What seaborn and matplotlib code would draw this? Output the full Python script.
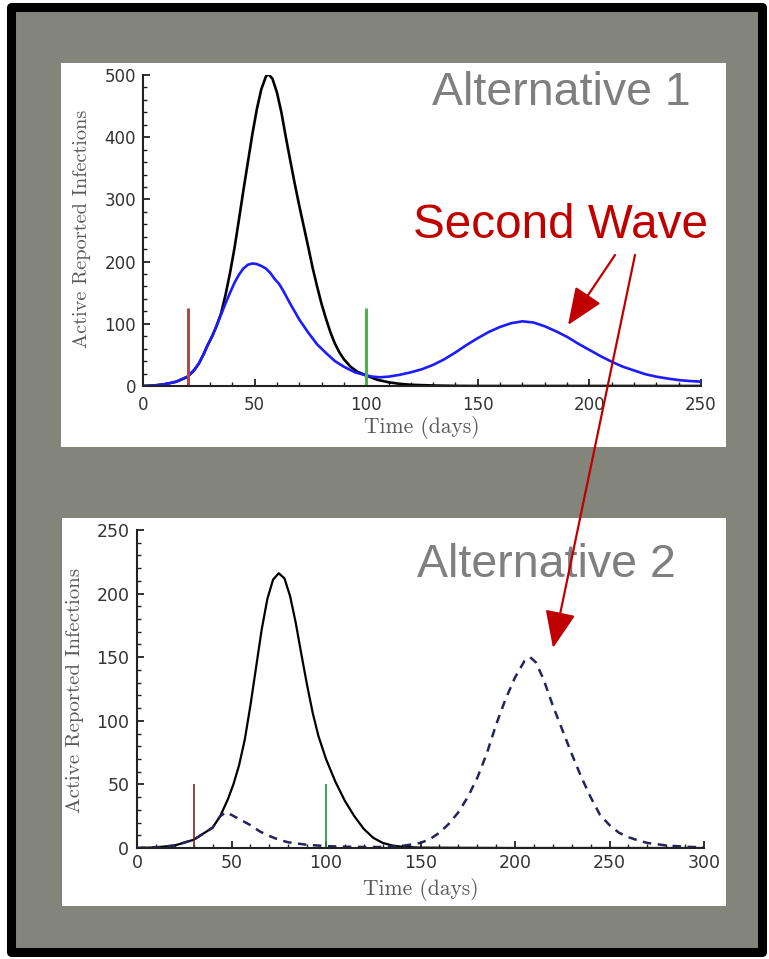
import matplotlib
matplotlib.use("Agg")
import matplotlib.pyplot as plt
import seaborn as sns
from matplotlib.patches import Rectangle, FancyArrowPatch
from matplotlib.ticker import MultipleLocator

# ---------------- data ----------------
alt1_black_days = [0, 5, 10, 15, 20, 23, 25, 27, 29, 31, 33, 35, 37, 39, 41, 43, 45, 47,
                   49, 51, 53, 55, 56, 58, 60, 62, 64, 66, 68, 70, 72, 74, 76, 78, 80,
                   82, 84, 86, 88, 90, 93, 96, 100, 105, 110, 115, 120, 130, 140, 150,
                   175, 200, 225, 250]
alt1_black = [0, 0.8, 3, 7, 15, 26, 36, 50, 66, 80, 97, 117, 147, 182, 222, 268, 315, 360,
              405, 445, 477, 497, 502, 494, 472, 440, 400, 362, 325, 290, 257, 224, 190,
              160, 132, 108, 86, 68, 54, 43, 31, 23, 17, 10, 6, 3.5, 2, 0.8, 0.2, 0,
              0, 0, 0, 0]

alt1_blue_days = [0, 5, 10, 15, 20, 23, 25, 27, 29, 31, 33, 35, 37, 39, 41, 43, 45, 47, 49,
                  51, 53, 55, 57, 59, 61, 63, 66, 70, 74, 78, 82, 86, 90, 95, 100, 103,
                  106, 110, 115, 120, 125, 130, 135, 140, 145, 150, 155, 160, 165, 170,
                  175, 180, 185, 190, 195, 200, 205, 210, 215, 220, 225, 230, 235, 240,
                  245, 250]
alt1_blue = [0, 0.8, 3, 7, 15, 26, 36, 50, 66, 80, 97, 115, 133, 150, 166, 179, 189, 195, 197,
             196, 193, 189, 182, 172, 164, 152, 132, 107, 86, 67, 53, 40, 31, 22, 17, 15,
             14, 15, 18, 22, 27, 34, 43, 54, 66, 77, 87, 95, 101, 104,
             102, 96, 88, 79, 68, 58, 48, 39, 31, 25, 19, 15, 12, 9.5,
             8, 7]

alt1_interventions = [20, 100]
alt1_marker_top = 125

alt2_solid_days = [0, 10, 20, 30, 40, 44, 48, 51, 54, 57, 60, 63, 66, 69, 72, 75, 78, 81,
                   84, 87, 90, 93, 96, 100, 105, 110, 115, 120, 125, 130, 135, 140, 150,
                   200, 250, 300]
alt2_solid = [0, 0.5, 2, 6.5, 16, 25, 38, 50, 65, 85, 112, 142, 172, 196, 211, 216, 212, 198,
              177, 152, 128, 106, 88, 70, 52, 37, 25, 15, 8, 4, 2, 1, 0.3,
              0, 0, 0]

alt2_dashed_days = [0, 10, 20, 30, 40, 44, 47, 50, 55, 60, 65, 70, 75, 80, 90, 100, 110, 120,
                    130, 140, 150, 155, 160, 165, 170, 175, 180, 185, 190, 195, 200, 205,
                    208, 211, 215, 220, 225, 230, 235, 240, 245, 250, 255, 260, 265, 270,
                    280, 290, 300]
alt2_dashed = [0, 0.5, 2, 6.5, 16, 25, 28, 26, 22, 18, 13, 9.5, 6.5, 4.5, 2.5, 1.5, 1, 0.8,
               0.8, 1.5, 4, 7, 12, 19, 28, 40, 55, 74, 97, 117, 134, 147,
               150, 146, 133, 112, 93, 74, 56, 40, 26, 18, 12, 8.5, 6, 4,
               2, 1, 0.5]

alt2_interventions = [30, 100]
alt2_marker_top = 50

panel_titles = ["Alternative 1", "Alternative 2"]
callout = "Second Wave"
xlabel = "Time (days)"
ylabel = "Active Reported Infections"

# ---------------- style ----------------
sns.set_style("white")
plt.rcParams["font.family"] = ["DejaVu Sans"]

W, H = 769, 959
fig = plt.figure(figsize=(W / 100, H / 100), dpi=100)
fig.patch.set_facecolor("white")


def fx(px):
    return px / W


def fy(py):
    return 1 - py / H


# outer frame
fig.add_artist(Rectangle((fx(10.5), fy(951.5)), (761.5 - 10.5) / W, (951.5 - 7) / H,
                         transform=fig.transFigure, facecolor="#84857a",
                         edgecolor="black", lw=6.5, joinstyle="round", zorder=-3))
# white panels
fig.add_artist(Rectangle((fx(61), fy(447)), 665 / W, 384 / H, transform=fig.transFigure,
                         facecolor="white", edgecolor="none", zorder=-2))
fig.add_artist(Rectangle((fx(62), fy(906)), 664 / W, 388 / H, transform=fig.transFigure,
                         facecolor="white", edgecolor="none", zorder=-2))

ax1 = fig.add_axes([fx(143), fy(386), 558 / W, 311 / H])
ax2 = fig.add_axes([fx(137), fy(848), 567 / W, 318 / H])

label_font = dict(family="cmr10", color="#5a5a5a")

# ---- panel 1 ----
sns.lineplot(x=alt1_black_days, y=alt1_black, ax=ax1, color="black", lw=1.9)
sns.lineplot(x=alt1_blue_days, y=alt1_blue, ax=ax1, color="#1c1cff", lw=1.9)
ax1.vlines(alt1_interventions, 0, alt1_marker_top, colors=["#a84c4c", "#52ad52"], lw=2.2)
ax1.set_xlim(0, 250)
ax1.set_ylim(0, 500)
ax1.xaxis.set_major_locator(MultipleLocator(50))
ax1.xaxis.set_minor_locator(MultipleLocator(10))
ax1.yaxis.set_major_locator(MultipleLocator(100))
ax1.yaxis.set_minor_locator(MultipleLocator(20))

# ---- panel 2 ----
sns.lineplot(x=alt2_solid_days, y=alt2_solid, ax=ax2, color="black", lw=1.6)
sns.lineplot(x=alt2_dashed_days, y=alt2_dashed, ax=ax2, color="#23235e", lw=1.8,
             linestyle=(0, (3.4, 2.6)))
ax2.vlines(alt2_interventions, 0, alt2_marker_top, colors=["#7a2424", "#229040"], lw=1.2)
ax2.set_xlim(0, 300)
ax2.set_ylim(0, 250)
ax2.xaxis.set_major_locator(MultipleLocator(50))
ax2.xaxis.set_minor_locator(MultipleLocator(10))
ax2.yaxis.set_major_locator(MultipleLocator(50))
ax2.yaxis.set_minor_locator(MultipleLocator(10))

for ax, xpad, ypad, lbsize in [(ax1, 7, 5, 12), (ax2, 4.5, 5.5, 12.5)]:
    ax.set_facecolor("none")
    for s in ["top", "right"]:
        ax.spines[s].set_visible(False)
    for s in ["left", "bottom"]:
        ax.spines[s].set_color("#222222")
        ax.spines[s].set_linewidth(1.5)
    ax.tick_params(which="both", direction="in", color="#222222", left=True, bottom=True)
    ax.tick_params(which="major", length=5, width=1.3)
    ax.tick_params(which="minor", length=3, width=1.0)
    ax.tick_params(axis="x", pad=xpad, labelsize=lbsize, labelcolor="#333333")
    ax.tick_params(axis="y", pad=ypad, labelsize=lbsize, labelcolor="#333333")
    ax.grid(False)

ax1.set_xlabel(xlabel, fontsize=15.5, va="center", **label_font)
ax1.xaxis.set_label_coords(0.5, -0.132)
ax1.set_ylabel(ylabel, fontsize=14.6, va="center", **label_font)
ax1.yaxis.set_label_coords(-0.109, 0.505)

ax2.set_xlabel(xlabel, fontsize=15.5, va="center", **label_font)
ax2.xaxis.set_label_coords(0.5, -0.132)
ax2.set_ylabel(ylabel, fontsize=15, va="center", **label_font)
ax2.yaxis.set_label_coords(-0.109, 0.497)

# ---- overlay texts ----
big = dict(family=["Liberation Sans", "DejaVu Sans"], va="baseline", ha="left")
fig.text(fx(432), fy(105), panel_titles[0], color="#7f7f7f", fontsize=33.5, zorder=5, **big)
fig.text(fx(417), fy(577), panel_titles[1], color="#7f7f7f", fontsize=33.5, zorder=5, **big)
fig.text(fx(413), fy(238), callout, color="#c00000", fontsize=34.3, zorder=5, **big)

# ---- arrows ----
for (x0, y0), (x1, y1) in [((615, 255), (568, 325)), ((635, 255), (553, 648))]:
    fig.add_artist(FancyArrowPatch((fx(x0), fy(y0)), (fx(x1), fy(y1)),
                                   transform=fig.transFigure,
                                   arrowstyle="-|>,head_length=23,head_width=9.5",
                                   mutation_scale=1, color="#c00000", lw=1.6,
                                   shrinkA=0, shrinkB=0, zorder=10))

fig.savefig("out.png", dpi=100, facecolor=fig.get_facecolor())
